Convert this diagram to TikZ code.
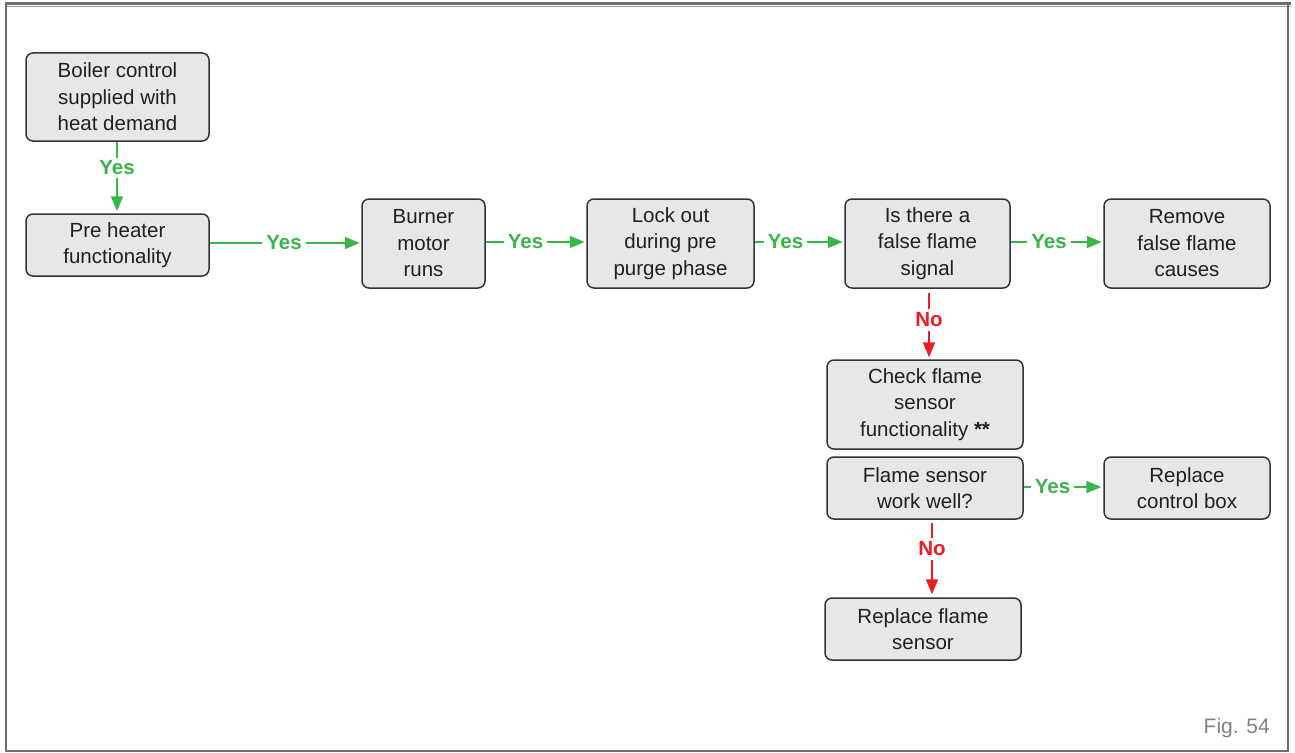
\documentclass[tikz,border=0pt]{standalone}
\usepackage{fontspec}
\setmainfont{Liberation Sans}
\usetikzlibrary{arrows.meta}
\definecolor{boxfill}{HTML}{E6E7E8}
\definecolor{boxdraw}{HTML}{333335}
\definecolor{ygreen}{HTML}{3AB54A}
\definecolor{nred}{HTML}{ED1C24}
\definecolor{framegray}{HTML}{6D6E71}
\definecolor{figgray}{HTML}{808285}
\definecolor{txt}{HTML}{231F20}
\begin{document}
\begin{tikzpicture}[x=1pt,y=-1pt,
  box/.style={draw=boxdraw, fill=boxfill, line width=1.5pt, rounded corners=7pt,
    align=center, text=txt, inner sep=0pt,
    font=\fontsize{20.5}{26.5}\selectfont},
  yesline/.style={draw=ygreen, line width=1.6pt},
  noline/.style={draw=nred, line width=1.6pt},
  tip/.style={-{Triangle[length=15pt,width=12pt]}},
  yeslabel/.style={text=ygreen, inner xsep=4pt, inner ysep=3pt,
    font=\fontsize{20.5}{22}\selectfont\bfseries},
  nolabel/.style={text=nred, inner xsep=4pt, inner ysep=4pt,
    font=\fontsize{20.5}{22}\selectfont\bfseries}
]
\useasboundingbox (0,0) rectangle (1295,752);
% frame
\draw[framegray, line width=2.2pt] (5,3.5) -- (1291,3.5);
\draw[framegray!70, line width=1pt] (5,6.5) -- (1291,6.5);
\draw[framegray, line width=2pt] (5.8,5) -- (5.8,750.5) -- (1288.3,750.5) -- (1288.3,5);

% boxes
\node[box, minimum width=183pt, minimum height=88pt] (boiler) at (117.5,97)
  {Boiler control\\supplied with\\heat demand};
\node[box, minimum width=183pt, minimum height=62pt] (pre) at (117.5,245)
  {Pre heater\\functionality};
\node[box, minimum width=123pt, minimum height=89pt] (burner) at (423.5,243.5)
  {Burner\\motor\\runs};
\node[box, minimum width=167pt, minimum height=89pt] (lock) at (670.5,243.5)
  {Lock out\\during pre\\purge phase};
\node[box, minimum width=165pt, minimum height=89pt] (false) at (927.5,243.5)
  {Is there a\\false flame\\signal};
\node[box, minimum width=166pt, minimum height=89pt] (remove) at (1187,243.5)
  {Remove\\false flame\\causes};
\node[box, minimum width=196pt, minimum height=89pt] (check) at (925,404.5)
  {Check flame\\sensor\\functionality \textbf{**}};
\node[box, minimum width=196pt, minimum height=62pt] (works) at (925,488)
  {Flame sensor\\work well?};
\node[box, minimum width=166pt, minimum height=62pt] (rctrl) at (1187,488)
  {Replace\\control box};
\node[box, minimum width=196pt, minimum height=62pt] (rflame) at (923,629)
  {Replace flame\\sensor};

% labels
\node[yeslabel] (y1) at (117,168) {Yes};
\node[yeslabel] (y2) at (284,243) {Yes};
\node[yeslabel] (y3) at (525.5,242) {Yes};
\node[yeslabel] (y4) at (785.5,242) {Yes};
\node[yeslabel] (y5) at (1049,242) {Yes};
\node[yeslabel] (y6) at (1052.5,487) {Yes};
\node[nolabel] (n1) at (929,320) {No};
\node[nolabel] (n2) at (932,549) {No};

% connectors
\draw[yesline] (boiler.south -| y1) -- (y1.north);
\draw[yesline, tip, shorten >=2pt] (y1.south) -- (pre.north -| y1);
\draw[yesline] (pre.east |- y2) -- (y2.west);
\draw[yesline, tip, shorten >=1.5pt] (y2.east) -- (burner.west |- y2);
\draw[yesline] (burner.east |- y3) -- (y3.west);
\draw[yesline, tip, shorten >=1.5pt] (y3.east) -- (lock.west |- y3);
\draw[yesline] (lock.east |- y4) -- (y4.west);
\draw[yesline, tip, shorten >=1.5pt] (y4.east) -- (false.west |- y4);
\draw[yesline] (false.east |- y5) -- (y5.west);
\draw[yesline, tip, shorten >=1.5pt] (y5.east) -- (remove.west |- y5);
\draw[yesline] (works.east |- y6) -- (y6.west);
\draw[yesline, tip, shorten >=2pt] (y6.east) -- (rctrl.west |- y6);
\draw[noline, shorten <=4pt] (false.south -| n1) -- (n1.north);
\draw[noline, tip, shorten >=2pt] (n1.south) -- (check.north -| n1);
\draw[noline, shorten <=3pt] (works.south -| n2) -- (n2.north);
\draw[noline, tip, shorten >=3pt] (n2.south) -- (rflame.north -| n2);

% figure label
\node[anchor=base east, text=figgray, font=\fontsize{21}{24}\selectfont, inner sep=0pt] (fig) at (1270,733) {Fig. 54};
\end{tikzpicture}
\end{document}
